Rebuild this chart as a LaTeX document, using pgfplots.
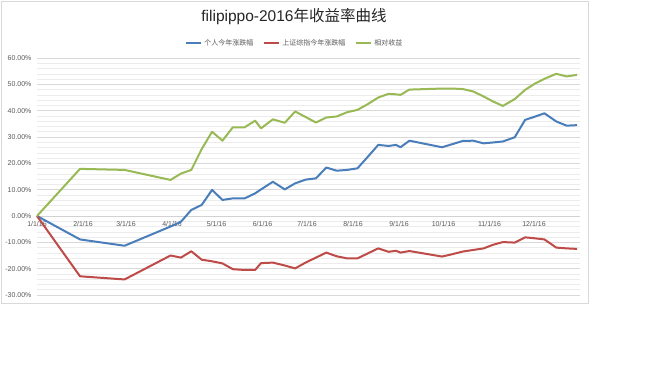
\documentclass[border=0pt]{standalone}
\usepackage{pgfplots}
\usepackage{pgfplotstable}
\pgfplotsset{compat=1.18}
\usepackage{fontspec}
\setmainfont{Liberation Sans}
\newfontfamily\cjk{Noto Sans CJK SC}
\definecolor{sblue}{HTML}{4A7EBB}
\definecolor{sred}{HTML}{BE4B48}
\definecolor{sgreen}{HTML}{98B954}
\definecolor{ticktxt}{HTML}{595959}

\pgfplotstableread{
day blue red green
0 0 0 0
29 -8.9 -22.9 17.9
59 -11.3 -24.1 17.5
90 -4.0 -15.0 13.7
97 -2.2 -15.8 16.1
104 2.3 -13.4 17.5
111 4.2 -16.6 25.4
118 9.9 -17.2 32.0
125 6.1 -18.0 28.6
132 6.7 -20.2 33.7
140 6.7 -20.5 33.7
147 8.6 -20.5 36.2
151 10.1 -17.9 33.3
159 13.0 -17.7 36.7
167 10.1 -18.8 35.4
174 12.4 -19.9 39.7
181 13.8 -17.7 37.6
188 14.3 -15.8 35.5
195 18.4 -13.9 37.4
202 17.2 -15.3 37.8
209 17.5 -16.1 39.4
216 18.1 -16.1 40.3
223 22.5 -14.2 42.5
230 27.0 -12.3 45.0
237 26.6 -13.6 46.4
242 27.0 -13.2 46.2
245 26.1 -13.9 46.0
251 28.6 -13.3 48.0
273 26.1 -15.4 48.4
280 27.3 -14.5 48.4
287 28.5 -13.5 48.2
294 28.6 -12.9 47.3
301 27.6 -12.3 45.4
307 27.9 -11.0 43.6
314 28.3 -9.9 41.8
322 29.9 -10.1 44.4
329 36.5 -8.1 47.9
336 37.8 -8.5 50.4
342 39.0 -8.9 52.1
350 35.9 -12.0 54.0
357 34.3 -12.3 53.0
364 34.5 -12.5 53.6
}\data

\begin{document}
\begin{tikzpicture}[x=1pt,y=1pt]
\fill[white] (0,0) rectangle (660,371);
\path[use as bounding box] (0,0) rectangle (660,371);
\draw[gray!30] (1.5,68) rectangle (588,369.5);
\node[font=\fontsize{15.5}{18}\selectfont, text=black!85] at (294,354) {filipippo-2016{\cjk 年收益率曲线}};
\begin{axis}[
  at={(37pt,76pt)}, anchor=south west,
  scale only axis, width=543pt, height=237pt,
  xmin=0, xmax=366, ymin=-30, ymax=60,
  axis x line*=middle, axis y line*=left,
  hide obscured x ticks=false,
  x axis line style={gray!35, line width=0.6pt},
  y axis line style={draw=none},
  major tick length=0pt, minor tick length=0pt,
  xtick={0,31,60,91,121,152,182,213,244,274,305,335},
  xticklabels={1/1/16,2/1/16,3/1/16,4/1/16,5/1/16,6/1/16,7/1/16,8/1/16,9/1/16,10/1/16,11/1/16,12/1/16},
  ytick={-30,-20,...,60},
  yticklabels={-30.00\%,-20.00\%,-10.00\%,0.00\%,10.00\%,20.00\%,30.00\%,40.00\%,50.00\%,60.00\%},
  minor y tick num=4,
  ymajorgrids, yminorgrids,
  major grid style={gray!30, line width=0.6pt},
  minor grid style={gray!15, line width=0.5pt},
  tick label style={font=\fontsize{7}{8}\selectfont, text=ticktxt},
  xticklabel style={yshift=-2pt},
  yticklabel style={xshift=-2pt},
  clip=false,
  legend style={at={(0.475,1.063)}, anchor=center, draw=none, fill=none,
    legend columns=3, font=\fontsize{7}{8}\selectfont\cjk, text=ticktxt,
    /tikz/every even column/.append style={column sep=8pt}},
  legend image code/.code={\draw[#1] (0pt,0pt) -- (15pt,0pt);},
  every axis plot/.append style={line width=2pt, line join=round, mark=none},
]
\addplot[sblue] table[x=day, y=blue] {\data};
\addlegendentry{个人今年涨跌幅}
\addplot[sred] table[x=day, y=red] {\data};
\addlegendentry{上证综指今年涨跌幅}
\addplot[sgreen] table[x=day, y=green] {\data};
\addlegendentry{相对收益}
\end{axis}
\end{tikzpicture}
\end{document}
